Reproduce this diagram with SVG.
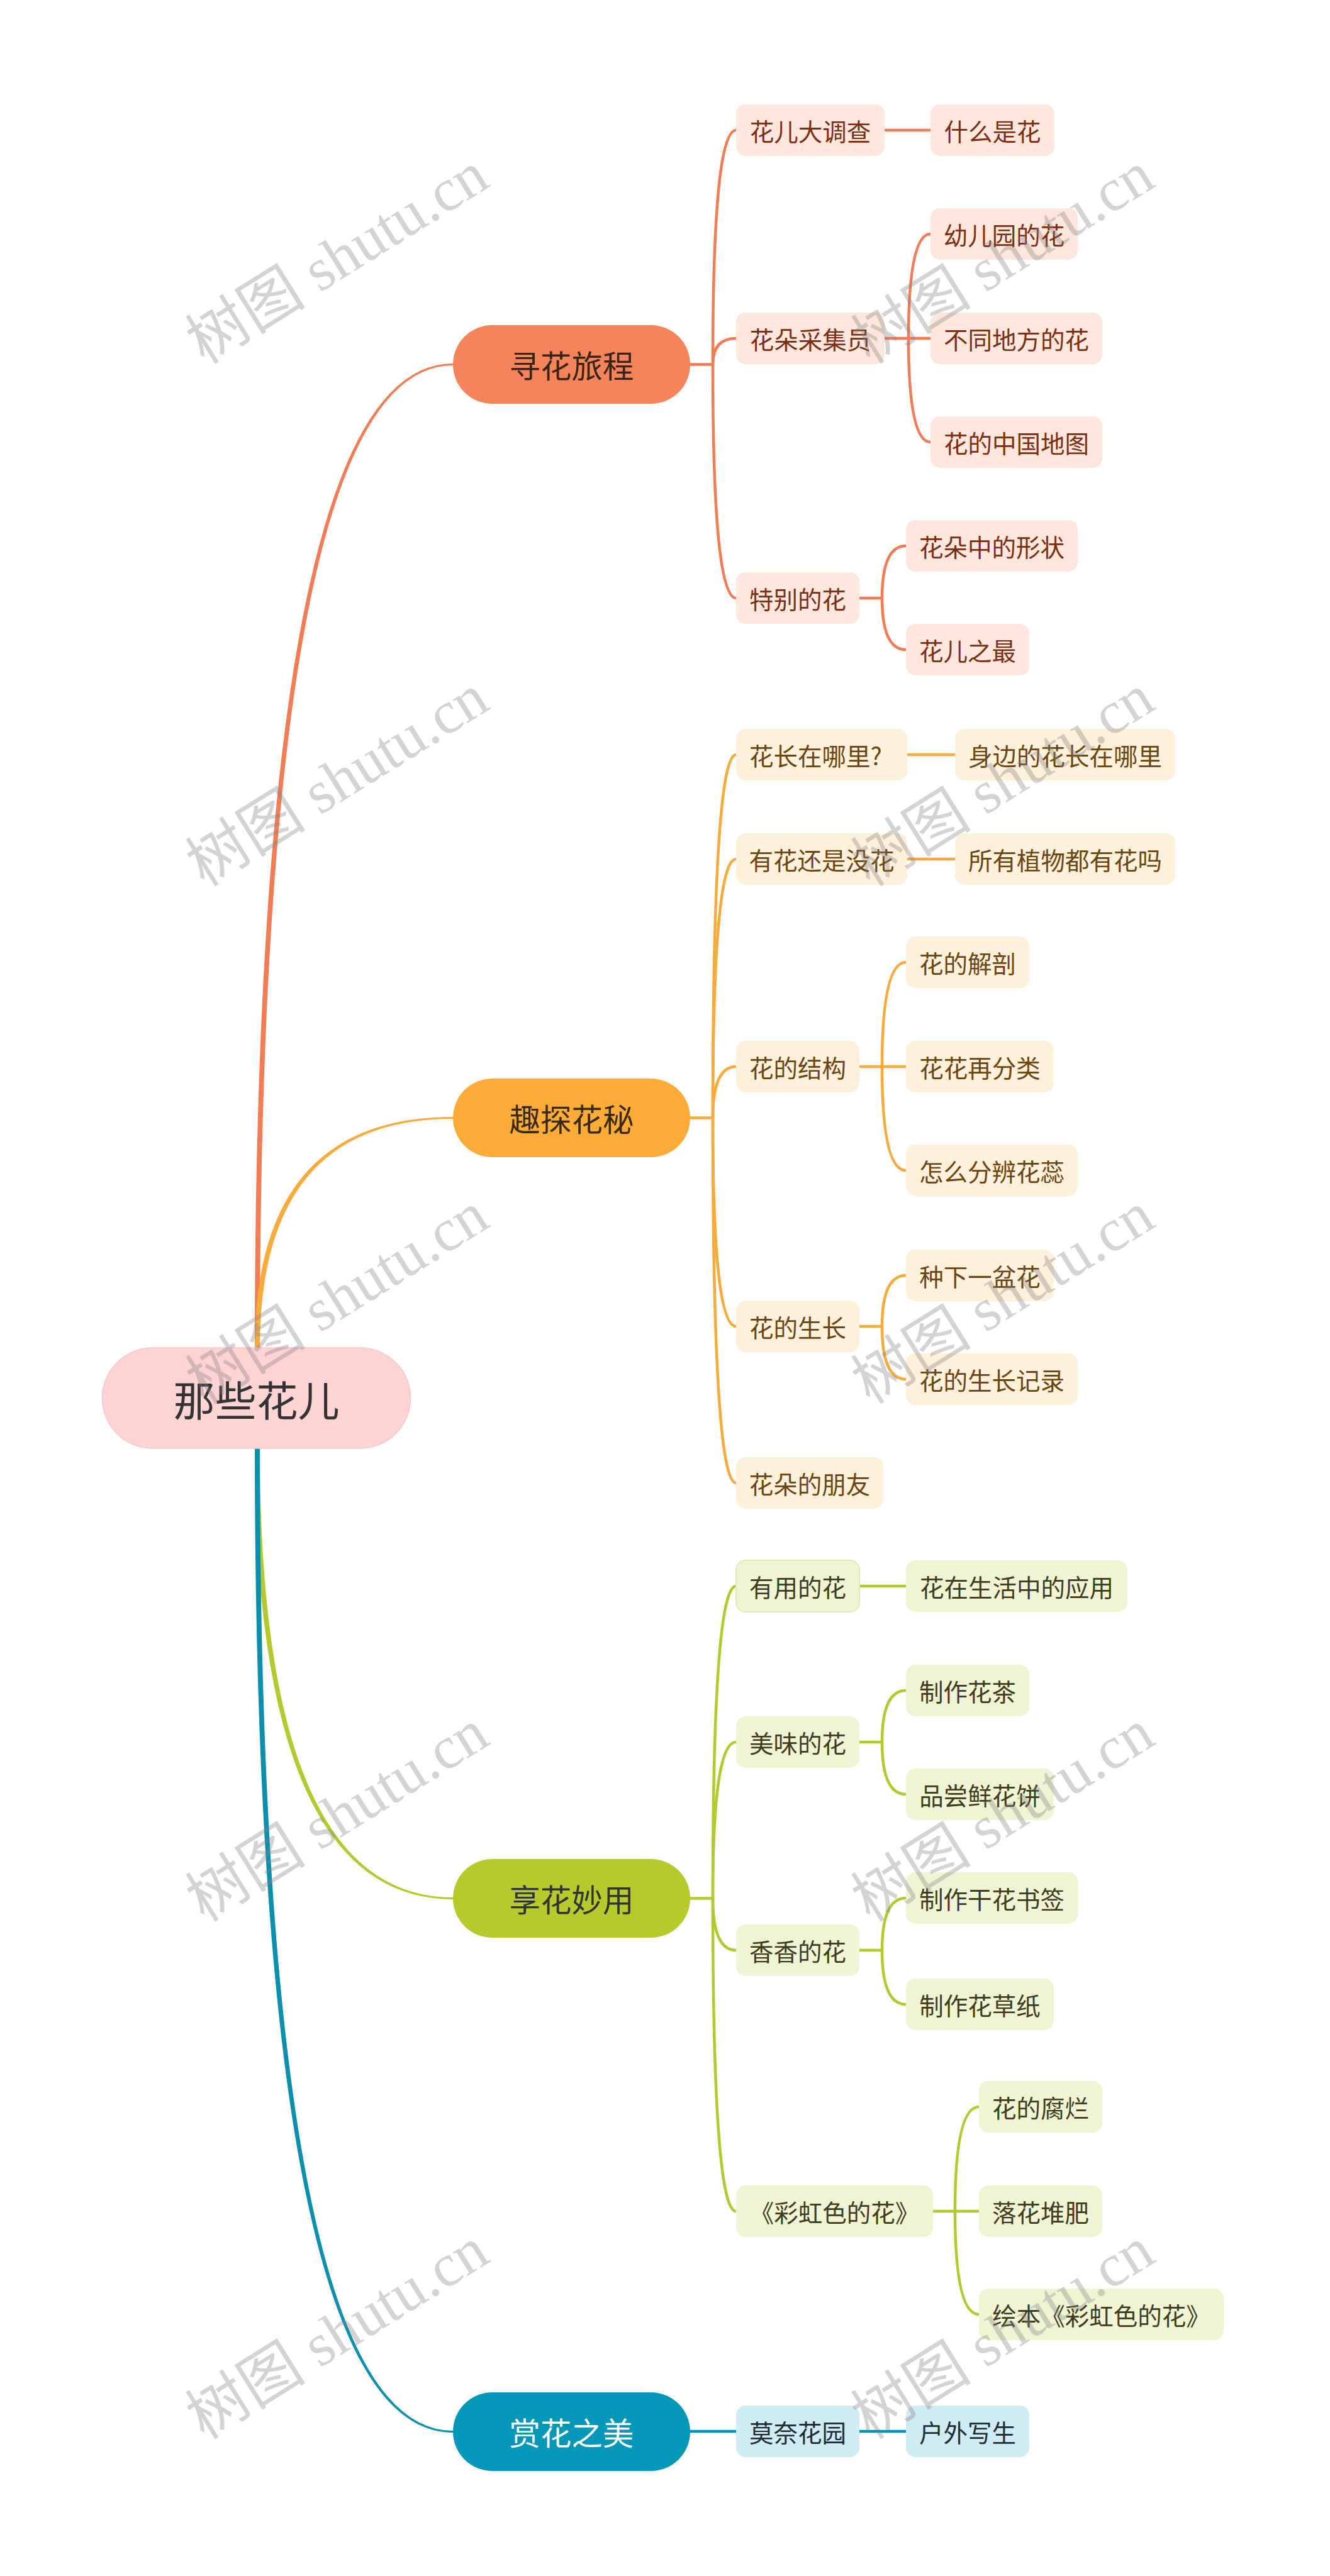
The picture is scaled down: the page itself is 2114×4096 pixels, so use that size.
<svg xmlns="http://www.w3.org/2000/svg" width="2114" height="4096" viewBox="0 0 2114 4096">
<style>
text{font-family:"Noto Sans CJK SC","Noto Sans",sans-serif;text-anchor:middle;dominant-baseline:central}
.s{font-size:38.5px}
.m{font-size:49.5px}
.r{font-size:66px}
.ln{fill:none;stroke-width:4.5;stroke-linecap:round}
.lo{stroke:#F27D55}.ly{stroke:#F6AB3A}.lg{stroke:#B3C92E}.lb{stroke:#0B8FAE}
.o1 rect{fill:#F6845A}.o1 text{fill:#3A2418}
.o2 rect{fill:#FDE7DD}.o2 text{fill:#7C2D12}
.y1 rect{fill:#FBAB36}.y1 text{fill:#3A2A10}
.y2 rect{fill:#FEF0DB}.y2 text{fill:#6B4510}
.g1 rect{fill:#B5CA2B}.g1 text{fill:#333333}
.g2 rect{fill:#F0F4D5}.g2 text{fill:#3D3D1D}
.b1 rect{fill:#0398B8}.b1 text{fill:#FFFFFF}
.b2 rect{fill:#CFEBF3}.b2 text{fill:#1F2D33}
.wm{font-family:"Liberation Serif","Noto Sans CJK SC",serif;font-size:96px;fill:#808080;fill-opacity:0.35}
</style>
<rect x="0" y="0" width="2114" height="4096" fill="#FFFFFF"/>
<g id="connectors">
  <path d="M405,2143 Q405,578 720,578 L720,581 Q413,581 413,2143 Z" fill="#F27D55"/>
  <path d="M405,2143 Q405,1776 720,1776 L720,1779 Q413,1779 413,2143 Z" fill="#F6AB3A"/>
  <path d="M405,2303 Q405,3020 720,3020 L720,3017 Q413,3017 413,2303 Z" fill="#B3C92E"/>
  <path d="M405,2303 Q405,3868 720,3868 L720,3865 Q413,3865 413,2303 Z" fill="#0B8FAE"/>
  <g class="ln lo">
    <path d="M1097,579.5 H1133"/>
    <path d="M1133,579.5 Q1133,207 1170,207"/>
    <path d="M1133,579.5 Q1133,538 1170,538"/>
    <path d="M1133,579.5 Q1133,951 1170,951"/>
    <path d="M1406,207 H1479"/>
    <path d="M1406,538 H1479"/>
    <path d="M1444,538 Q1444,372 1479,372"/>
    <path d="M1444,538 Q1444,703 1479,703"/>
    <path d="M1366,951 H1402"/>
    <path d="M1402,951 Q1402,868 1440,868"/>
    <path d="M1402,951 Q1402,1033 1440,1033"/>
  </g>
  <g class="ln ly">
    <path d="M1097,1777.5 H1133"/>
    <path d="M1133,1777.5 Q1133,1200 1170,1200"/>
    <path d="M1133,1777.5 Q1133,1366 1170,1366"/>
    <path d="M1133,1777.5 Q1133,1696 1170,1696"/>
    <path d="M1133,1777.5 Q1133,2109 1170,2109"/>
    <path d="M1133,1777.5 Q1133,2358 1170,2358"/>
    <path d="M1442,1200 H1518"/>
    <path d="M1442,1366 H1518"/>
    <path d="M1366,1696 H1440"/>
    <path d="M1402,1696 Q1402,1530 1440,1530"/>
    <path d="M1402,1696 Q1402,1861 1440,1861"/>
    <path d="M1366,2109 H1402"/>
    <path d="M1402,2109 Q1402,2028 1440,2028"/>
    <path d="M1402,2109 Q1402,2193 1440,2193"/>
  </g>
  <g class="ln lg">
    <path d="M1097,3018.5 H1133"/>
    <path d="M1133,3018.5 Q1133,2522 1170,2522"/>
    <path d="M1133,3018.5 Q1133,2770 1170,2770"/>
    <path d="M1133,3018.5 Q1133,3101 1170,3101"/>
    <path d="M1133,3018.5 Q1133,3516 1170,3516"/>
    <path d="M1366,2522 H1440"/>
    <path d="M1366,2770 H1402"/>
    <path d="M1402,2770 Q1402,2688 1440,2688"/>
    <path d="M1402,2770 Q1402,2853 1440,2853"/>
    <path d="M1366,3101 H1402"/>
    <path d="M1402,3101 Q1402,3018 1440,3018"/>
    <path d="M1402,3101 Q1402,3187 1440,3187"/>
    <path d="M1483,3516 H1556"/>
    <path d="M1518,3516 Q1518,3350 1556,3350"/>
    <path d="M1518,3516 Q1518,3680 1556,3680"/>
  </g>
  <g class="ln lb">
    <path d="M1097,3866 H1170"/>
    <path d="M1366,3866 H1440"/>
  </g>
</g>
<g id="root"><rect x="162.5" y="2143" width="490" height="160" rx="80" fill="#FED3D4" stroke="#F9C6C7" stroke-width="1.5"/><text class="r" x="407.5" y="2223" fill="#333333">那些花儿</text></g>

<g id="n-xunhua" class="o1"><rect x="720" y="517" width="377" height="125" rx="62.5"/><text class="m" x="908.5" y="579.5">寻花旅程</text></g>
<g id="n-huaer-dadiaocha" class="o2"><rect x="1170" y="166" width="236" height="82" rx="15"/><text class="s" x="1288" y="207">花儿大调查</text></g>
<g id="n-shenme" class="o2"><rect x="1479" y="166" width="197" height="82" rx="15"/><text class="s" x="1577.5" y="207">什么是花</text></g>
<g id="n-caiji" class="o2"><rect x="1170" y="497" width="236" height="82" rx="15"/><text class="s" x="1288" y="538">花朵采集员</text></g>
<g id="n-youeryuan" class="o2"><rect x="1479" y="331" width="234" height="82" rx="15"/><text class="s" x="1596" y="372">幼儿园的花</text></g>
<g id="n-butong" class="o2"><rect x="1479" y="497" width="273" height="82" rx="15"/><text class="s" x="1615.5" y="538">不同地方的花</text></g>
<g id="n-ditu" class="o2"><rect x="1479" y="662" width="273" height="82" rx="15"/><text class="s" x="1615.5" y="703">花的中国地图</text></g>
<g id="n-tebie" class="o2"><rect x="1170" y="910" width="196" height="82" rx="15"/><text class="s" x="1268" y="951">特别的花</text></g>
<g id="n-xingzhuang" class="o2"><rect x="1440" y="827" width="273" height="82" rx="15"/><text class="s" x="1576.5" y="868">花朵中的形状</text></g>
<g id="n-zhizui" class="o2"><rect x="1440" y="992" width="196" height="82" rx="15"/><text class="s" x="1538" y="1033">花儿之最</text></g>

<g id="n-qutan" class="y1"><rect x="720" y="1715" width="377" height="125" rx="62.5"/><text class="m" x="908.5" y="1777.5">趣探花秘</text></g>
<g id="n-nali" class="y2"><rect x="1170" y="1159" width="272" height="82" rx="15"/><text class="s" x="1191" y="1200" style="text-anchor:start">花长在哪里?</text></g>
<g id="n-shenbian" class="y2"><rect x="1518" y="1159" width="350" height="82" rx="15"/><text class="s" x="1693" y="1200">身边的花长在哪里</text></g>
<g id="n-youhua" class="y2"><rect x="1170" y="1325" width="272" height="82" rx="15"/><text class="s" x="1306" y="1366">有花还是没花</text></g>
<g id="n-suoyou" class="y2"><rect x="1518" y="1325" width="350" height="82" rx="15"/><text class="s" x="1693" y="1366">所有植物都有花吗</text></g>
<g id="n-jiepou" class="y2"><rect x="1440" y="1489" width="196" height="82" rx="15"/><text class="s" x="1538" y="1530">花的解剖</text></g>
<g id="n-jiegou" class="y2"><rect x="1170" y="1655" width="196" height="82" rx="15"/><text class="s" x="1268" y="1696">花的结构</text></g>
<g id="n-fenlei" class="y2"><rect x="1440" y="1655" width="235" height="82" rx="15"/><text class="s" x="1557.5" y="1696">花花再分类</text></g>
<g id="n-huarui" class="y2"><rect x="1440" y="1820" width="273" height="82" rx="15"/><text class="s" x="1576.5" y="1861">怎么分辨花蕊</text></g>
<g id="n-zhongxia" class="y2"><rect x="1440" y="1987" width="235" height="82" rx="15"/><text class="s" x="1557.5" y="2028">种下一盆花</text></g>
<g id="n-shengzhang" class="y2"><rect x="1170" y="2068" width="196" height="82" rx="15"/><text class="s" x="1268" y="2109">花的生长</text></g>
<g id="n-jilu" class="y2"><rect x="1440" y="2152" width="273" height="82" rx="15"/><text class="s" x="1576.5" y="2193">花的生长记录</text></g>
<g id="n-pengyou" class="y2"><rect x="1170" y="2317" width="234" height="82" rx="15"/><text class="s" x="1287" y="2358">花朵的朋友</text></g>

<g id="n-xianghua" class="g1"><rect x="720" y="2956" width="377" height="125" rx="62.5"/><text class="m" x="908.5" y="3018.5">享花妙用</text></g>
<g id="n-youyong" class="g2"><rect x="1170" y="2481" width="196" height="82" rx="15" stroke="#E2EAB2" stroke-width="2"/><text class="s" x="1268" y="2522">有用的花</text></g>
<g id="n-yingyong" class="g2"><rect x="1440" y="2481" width="352" height="82" rx="15"/><text class="s" x="1616" y="2522">花在生活中的应用</text></g>
<g id="n-huacha" class="g2"><rect x="1440" y="2647" width="196" height="82" rx="15"/><text class="s" x="1538" y="2688">制作花茶</text></g>
<g id="n-meiwei" class="g2"><rect x="1170" y="2729" width="196" height="82" rx="15"/><text class="s" x="1268" y="2770">美味的花</text></g>
<g id="n-huabing" class="g2"><rect x="1440" y="2812" width="235" height="82" rx="15"/><text class="s" x="1557.5" y="2853">品尝鲜花饼</text></g>
<g id="n-shuqian" class="g2"><rect x="1440" y="2977" width="273" height="82" rx="15"/><text class="s" x="1576.5" y="3018">制作干花书签</text></g>
<g id="n-xiangxiang" class="g2"><rect x="1170" y="3060" width="196" height="82" rx="15"/><text class="s" x="1268" y="3101">香香的花</text></g>
<g id="n-huacaozhi" class="g2"><rect x="1440" y="3146" width="235" height="82" rx="15"/><text class="s" x="1557.5" y="3187">制作花草纸</text></g>
<g id="n-fulan" class="g2"><rect x="1556" y="3309" width="196" height="82" rx="15"/><text class="s" x="1654" y="3350">花的腐烂</text></g>
<g id="n-caihong" class="g2"><rect x="1170" y="3475" width="313" height="82" rx="15"/><text class="s" x="1326.5" y="3516">《彩虹色的花》</text></g>
<g id="n-duifei" class="g2"><rect x="1556" y="3475" width="196" height="82" rx="15"/><text class="s" x="1654" y="3516">落花堆肥</text></g>
<g id="n-huiben" class="g2"><rect x="1556" y="3639" width="389" height="82" rx="15"/><text class="s" x="1750.5" y="3680">绘本《彩虹色的花》</text></g>

<g id="n-shanghua" class="b1"><rect x="720" y="3804" width="377" height="125" rx="62.5"/><text class="m" x="908.5" y="3866.5">赏花之美</text></g>
<g id="n-monai" class="b2"><rect x="1170" y="3825" width="196" height="82" rx="15"/><text class="s" x="1268" y="3866">莫奈花园</text></g>
<g id="n-xiesheng" class="b2"><rect x="1440" y="3825" width="196" height="82" rx="15"/><text class="s" x="1538" y="3866">户外写生</text></g>

<g id="watermarks">
  <text class="wm" transform="translate(536,410) rotate(-32)">树图 shutu.cn</text>
  <text class="wm" transform="translate(1594,410) rotate(-32)">树图 shutu.cn</text>
  <text class="wm" transform="translate(536,1241) rotate(-32)">树图 shutu.cn</text>
  <text class="wm" transform="translate(1594,1241) rotate(-32)">树图 shutu.cn</text>
  <text class="wm" transform="translate(536,2064) rotate(-32)">树图 shutu.cn</text>
  <text class="wm" transform="translate(1594,2064) rotate(-32)">树图 shutu.cn</text>
  <text class="wm" transform="translate(536,2887) rotate(-32)">树图 shutu.cn</text>
  <text class="wm" transform="translate(1594,2887) rotate(-32)">树图 shutu.cn</text>
  <text class="wm" transform="translate(536,3710) rotate(-32)">树图 shutu.cn</text>
  <text class="wm" transform="translate(1594,3710) rotate(-32)">树图 shutu.cn</text>
</g>
</svg>
